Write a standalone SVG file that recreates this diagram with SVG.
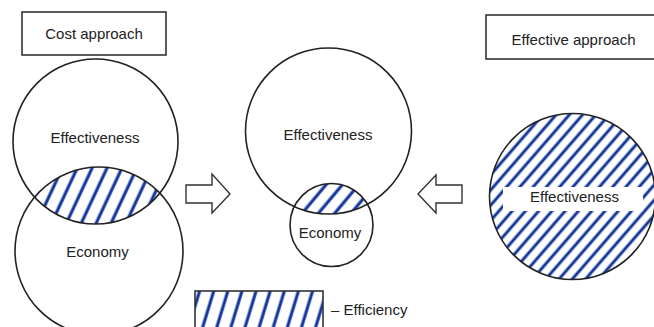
<svg xmlns="http://www.w3.org/2000/svg" width="654" height="327" viewBox="0 0 654 327">
<style>
.o{fill:none;stroke:#222;stroke-width:1.6}
.box{fill:#fff;stroke:#333;stroke-width:1.6}
.t{font-family:"Liberation Sans",Arial,sans-serif;font-size:15px;fill:#222;text-anchor:middle}
.arr{fill:#fff;stroke:#333;stroke-width:1.4;stroke-linejoin:miter}
</style>
<defs>
<pattern id="hL" patternUnits="userSpaceOnUse" width="13.5" height="20" patternTransform="rotate(25)">
<line x1="6" y1="0" x2="6" y2="20" stroke="#4a7fd0" stroke-width="3.6"/>
<line x1="6" y1="0" x2="6" y2="20" stroke="#1b2a8c" stroke-width="2"/>
</pattern>
<pattern id="hM" patternUnits="userSpaceOnUse" width="12.5" height="20" patternTransform="rotate(40)">
<line x1="6" y1="0" x2="6" y2="20" stroke="#4a7fd0" stroke-width="3.6"/>
<line x1="6" y1="0" x2="6" y2="20" stroke="#1b2a8c" stroke-width="2"/>
</pattern>
<pattern id="hR" patternUnits="userSpaceOnUse" width="10" height="20" patternTransform="rotate(41)">
<line x1="5" y1="0" x2="5" y2="20" stroke="#4a7fd0" stroke-width="3.4"/>
<line x1="5" y1="0" x2="5" y2="20" stroke="#1b2a8c" stroke-width="1.9"/>
</pattern>
<pattern id="hG" patternUnits="userSpaceOnUse" width="13.5" height="20" patternTransform="rotate(17)">
<line x1="6" y1="0" x2="6" y2="20" stroke="#4a7fd0" stroke-width="3.6"/>
<line x1="6" y1="0" x2="6" y2="20" stroke="#1b2a8c" stroke-width="2"/>
</pattern>
<clipPath id="cA"><circle cx="95.5" cy="141.5" r="82.5"/></clipPath>
<clipPath id="cM"><circle cx="328.5" cy="131" r="83"/></clipPath>
</defs>
<rect width="654" height="327" fill="#fff"/>

<g id="cost-approach">
<rect class="box" x="22" y="12" width="144" height="43"/>
<text class="t" x="94" y="39">Cost approach</text>
</g>

<g id="left-venn">
<circle cx="99" cy="251" r="84" fill="url(#hL)" clip-path="url(#cA)"/>
<circle class="o" cx="95.5" cy="141.5" r="82.5"/>
<circle class="o" cx="99" cy="251" r="84"/>
<text class="t" x="95" y="143">Effectiveness</text>
<text class="t" x="97.5" y="257">Economy</text>
</g>

<g id="middle-venn">
<circle cx="331.5" cy="225" r="41.5" fill="url(#hM)" clip-path="url(#cM)"/>
<circle class="o" cx="328.5" cy="131" r="83"/>
<circle class="o" cx="331.5" cy="225" r="41.5"/>
<text class="t" x="328" y="140">Effectiveness</text>
<text class="t" x="330" y="238">Economy</text>
</g>

<g id="effective-approach">
<rect class="box" x="486" y="15" width="172" height="44"/>
<text class="t" x="573.5" y="45">Effective approach</text>
</g>

<g id="right-circle">
<circle cx="572.5" cy="196.5" r="83" fill="url(#hR)"/>
<rect x="503" y="187" width="140" height="24" fill="#fff"/>
<circle class="o" cx="572.5" cy="196.5" r="83"/>
<text class="t" x="574.5" y="201.5">Effectiveness</text>
</g>

<g id="legend">
<rect x="195" y="291" width="128" height="40" fill="url(#hG)" stroke="#333" stroke-width="1.6"/>
<text class="t" x="331" y="315" style="text-anchor:start">– Efficiency</text>
</g>

<g id="connectors">
<polygon class="arr" points="186,185 212,185 212,174 230,194 212,213 212,203 186,203"/>
<polygon class="arr" points="462,185 436,185 436,175 418,194 436,213 436,203 462,203"/>
</g>
</svg>
